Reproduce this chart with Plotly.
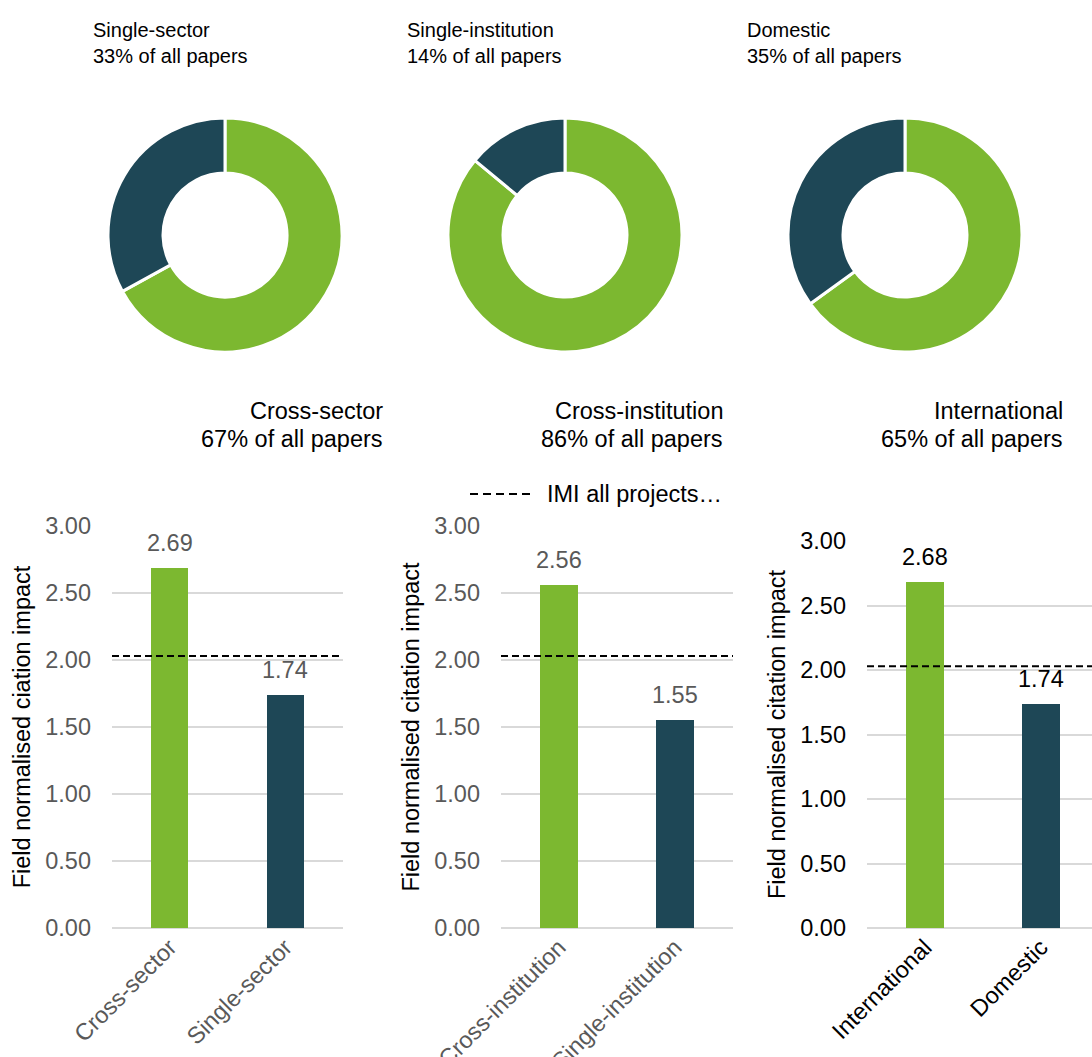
import plotly.graph_objects as go

W, H = 1092, 1057

# ---- data ----
donut_labels = [["Cross-sector", "Single-sector"],
                ["Cross-institution", "Single-institution"],
                ["International", "Domestic"]]
donut_shares = [[67, 33], [86, 14], [65, 35]]

bar_categories = [["Cross-sector", "Single-sector"],
                  ["Cross-institution", "Single-institution"],
                  ["International", "Domestic"]]
bar_values = [[2.69, 1.74], [2.56, 1.55], [2.68, 1.74]]
imi_all_projects = 2.03
imi_label = "IMI all projects…"
y_titles = ["Field normalised ciation impact",
            "Field normalised citation impact",
            "Field normalised citation impact"]
y_ticks = [0, 0.5, 1.0, 1.5, 2.0, 2.5, 3.0]

GREEN = "#7cb830"
DARK = "#1e4756"
GRID = "#d9d9d9"
FONT = "Arial, Liberation Sans, sans-serif"

def px(x):
    return x / W

def py(y):
    return 1 - y / H

fig = go.Figure()

# ---- donuts ----
centers = [225, 565, 905]
cy, R = 235, 117
for i, (labs, vals) in enumerate(zip(donut_labels, donut_shares)):
    cx = centers[i]
    fig.add_trace(go.Pie(
        labels=labs, values=vals, hole=0.53, sort=False, direction="clockwise",
        rotation=0, textinfo="none", hoverinfo="label+percent",
        marker=dict(colors=[GREEN, DARK], line=dict(color="white", width=3)),
        domain=dict(x=[px(cx - R), px(cx + R)], y=[py(cy + R), py(cy - R)]),
        showlegend=False))

annotations = []
top_x = [91, 405, 745]
bot_x = [385, 725, 1065]
for i in range(3):
    small = donut_labels[i][1]
    big = donut_labels[i][0]
    annotations += [
        dict(x=px(top_x[i]), y=py(30), xref="paper", yref="paper", text=small,
             showarrow=False, xanchor="left", yanchor="middle",
             font=dict(size=20, color="black", family=FONT)),
        dict(x=px(top_x[i]), y=py(56), xref="paper", yref="paper",
             text=f"{donut_shares[i][1]}% of all papers",
             showarrow=False, xanchor="left", yanchor="middle",
             font=dict(size=20, color="black", family=FONT)),
        dict(x=px(bot_x[i]), y=py(411), xref="paper", yref="paper", text=big,
             showarrow=False, xanchor="right", yanchor="middle",
             font=dict(size=23.5, color="black", family=FONT)),
        dict(x=px(bot_x[i]), y=py(439), xref="paper", yref="paper",
             text=f"{donut_shares[i][0]}% of all papers",
             showarrow=False, xanchor="right", yanchor="middle",
             font=dict(size=23.5, color="black", family=FONT)),
    ]

# ---- bar panels ----
x_domains = [[px(112), px(343)], [px(501), px(733)], [px(867), 1.0]]
y_domains = [[py(928), py(526)], [py(928), py(526)], [py(928), py(541)]]
x_ranges = [[-0.5, 1.5], [-0.5, 1.5], [-0.5, 1.44]]
text_colors = ["#595959", "#595959", "black"]

for i in range(3):
    xa = "x" if i == 0 else f"x{i+1}"
    ya = "y" if i == 0 else f"y{i+1}"
    fig.add_trace(go.Bar(
        x=[0, 1], y=bar_values[i], width=0.32,
        marker=dict(color=[GREEN, DARK], line=dict(width=0)),
        xaxis=xa, yaxis=ya, showlegend=False, hoverinfo="y"))
    fig.add_trace(go.Scatter(
        x=[-0.5, 1.5], y=[imi_all_projects, imi_all_projects], mode="lines",
        line=dict(color="black", width=2, dash="7px,4px"),
        xaxis=xa, yaxis=ya, showlegend=False, name=imi_label, hoverinfo="y"))
    for j, v in enumerate(bar_values[i]):
        annotations.append(dict(
            x=j, y=v, xref=xa, yref=ya, text=f"{v:.2f}", showarrow=False,
            xanchor="center", yanchor="bottom", yshift=10,
            font=dict(size=23.5, color=text_colors[i], family=FONT)))
    sfx = "" if i == 0 else str(i + 1)
    fig.update_layout(**{
        f"xaxis{sfx}": dict(
            domain=x_domains[i], range=x_ranges[i], anchor=ya,
            tickvals=[0, 1], ticktext=bar_categories[i], tickangle=-45,
            showgrid=False, zeroline=False, showline=False, ticks="",
            automargin=False,
            tickfont=dict(size=23.5, color=text_colors[i], family=FONT),
            fixedrange=True),
        f"yaxis{sfx}": dict(
            domain=y_domains[i], range=[0, 3.0], anchor=xa,
            tickvals=y_ticks, ticktext=[f"{t:.2f}" for t in y_ticks],
            showgrid=True, gridcolor=GRID, gridwidth=1.5,
            zeroline=True, zerolinecolor=GRID, zerolinewidth=1.5,
            showline=False, ticks="", ticklabelstandoff=20,
            automargin=False,
            tickfont=dict(size=23.5, color=text_colors[i], family=FONT),
            title=dict(text=y_titles[i], standoff=8,
                       font=dict(size=23.5, color="black", family=FONT)),
            fixedrange=True),
    })

# legend for the dashed reference line
annotations.append(dict(
    x=px(545), y=py(494), xref="paper", yref="paper", text=imi_label,
    showarrow=False, xanchor="left", yanchor="middle",
    font=dict(size=23.5, color="black", family=FONT)))
shapes = [dict(type="line", xref="paper", yref="paper",
               x0=px(470), x1=px(532), y0=py(494), y1=py(494),
               line=dict(color="black", width=2, dash="8px,5px"))]

fig.update_layout(
    width=W, height=H, margin=dict(l=0, r=0, t=0, b=0, autoexpand=False),
    paper_bgcolor="white", plot_bgcolor="white",
    font=dict(family=FONT), annotations=annotations, shapes=shapes,
    showlegend=False, bargap=0)

fig.write_html("out.html")
